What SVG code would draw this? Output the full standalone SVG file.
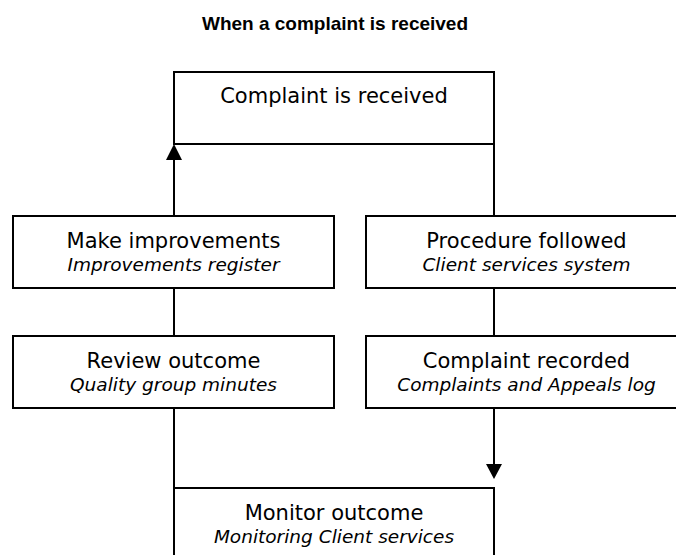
<svg xmlns="http://www.w3.org/2000/svg" width="676" height="555" viewBox="0 0 676 555">
  <style>
    .box { fill: #ffffff; stroke: #000000; stroke-width: 2; }
    .link { fill: none; stroke: #000000; stroke-width: 2; }
    .head { fill: #000000; stroke: none; }
    .title { font-family: "Liberation Sans", Arial, sans-serif; font-weight: bold; font-size: 19px; fill: #000000; text-anchor: middle; }
    .main { font-family: "DejaVu Sans", Verdana, sans-serif; font-size: 21px; fill: #000000; text-anchor: middle; }
    .sub { font-family: "DejaVu Sans", Verdana, sans-serif; font-style: italic; font-size: 18.5px; fill: #000000; text-anchor: middle; }
  </style>

  <rect width="676" height="555" fill="#ffffff"/>

  <text class="title" x="335" y="30">When a complaint is received</text>

  <!-- connectors -->
  <g id="connectors">
    <line class="link" x1="174" y1="216" x2="174" y2="158"/>
    <polygon class="head" points="174,144 166,160 182,160"/>
    <line class="link" x1="174" y1="288" x2="174" y2="336"/>
    <line class="link" x1="174" y1="408" x2="174" y2="488"/>
    <line class="link" x1="494" y1="144" x2="494" y2="216"/>
    <line class="link" x1="494" y1="288" x2="494" y2="336"/>
    <line class="link" x1="494" y1="408" x2="494" y2="466"/>
    <polygon class="head" points="494,479 486,464 502,464"/>
  </g>

  <g id="node-received">
    <rect class="box" x="174" y="72" width="320" height="72"/>
    <text class="main" x="334" y="103">Complaint is received</text>
  </g>

  <g id="node-improvements">
    <rect class="box" x="13" y="216" width="321" height="72"/>
    <text class="main" x="173.5" y="248">Make improvements</text>
    <text class="sub" x="173.5" y="271">Improvements register</text>
  </g>

  <g id="node-procedure">
    <rect class="box" x="366" y="216" width="321" height="72"/>
    <text class="main" x="526.5" y="248">Procedure followed</text>
    <text class="sub" x="526.5" y="271">Client services system</text>
  </g>

  <g id="node-review">
    <rect class="box" x="13" y="336" width="321" height="72"/>
    <text class="main" x="173.5" y="368">Review outcome</text>
    <text class="sub" x="173.5" y="391">Quality group minutes</text>
  </g>

  <g id="node-recorded">
    <rect class="box" x="366" y="336" width="321" height="72"/>
    <text class="main" x="526.5" y="368">Complaint recorded</text>
    <text class="sub" x="526.5" y="391">Complaints and Appeals log</text>
  </g>

  <g id="node-monitor">
    <rect class="box" x="174" y="488" width="320" height="72"/>
    <text class="main" x="334" y="520">Monitor outcome</text>
    <text class="sub" x="334" y="543">Monitoring Client services</text>
  </g>
</svg>
